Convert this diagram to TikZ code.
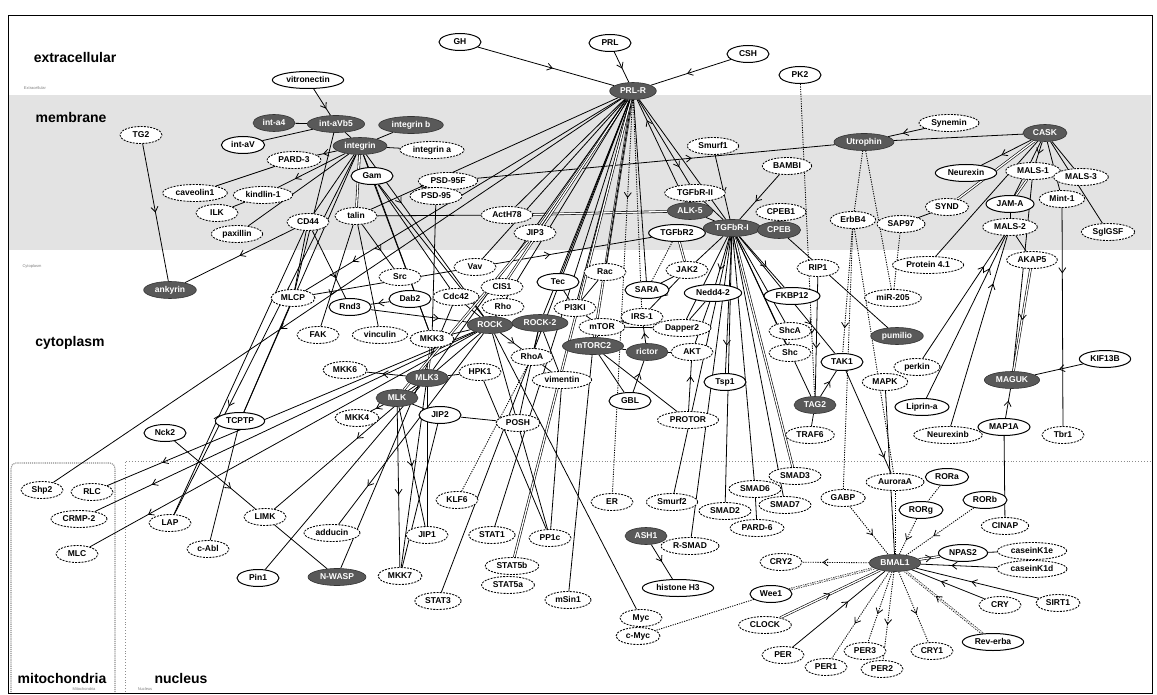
\documentclass[tikz,border=0pt]{standalone}
\usepackage{fontspec}
\setmainfont{Liberation Sans}
\usetikzlibrary{arrows.meta,decorations.markings,shapes.geometric}
\pgfdeclarelayer{back}
\pgfdeclarelayer{edges}
\pgfsetlayers{back,edges,main}
\tikzset{
  nd/.style={ellipse, inner xsep=3.5pt, inner ysep=1pt, minimum height=17pt, minimum width=42pt, font=\fontsize{8.5}{9}\selectfont\bfseries, text height=6.2pt, text depth=1.6pt},
  so/.style={nd, draw, line width=1pt, fill=white},
  da/.style={nd, draw, line width=0.85pt, dash pattern=on 2pt off 1.2pt, fill=white},
  dk/.style={nd, draw=black!80, line width=0.6pt, fill=black!65, text=white},
  ln/.style={draw, line width=0.8pt},
  dl/.style={draw, line width=0.85pt, dash pattern=on 1.2pt off 1.2pt},
  ma/.style={postaction={decorate}, decoration={markings, mark=at position #1 with {\arrow{Straight Barb[length=5pt,width=7pt,line width=0.8pt]}}}},
  ma/.default=0.55,
  dbl/.style={double, double distance=1.3pt, line width=0.6pt},
  reg/.style={font=\fontsize{14}{16}\selectfont\bfseries, inner sep=0pt},
  tinylab/.style={font=\fontsize{4}{5}\selectfont, text=black!50, inner sep=0pt},
}
\begin{document}
\begin{tikzpicture}[x=1pt,y=-1pt]
\useasboundingbox (0,0) rectangle (1157,695);
\begin{pgfonlayer}{back}
\fill[white] (0,0) rectangle (1157,695);
\fill[black!11] (9,95) rectangle (1151,250);
\draw[black!45, dotted, line width=0.9pt] (125,692) -- (125,461) -- (1151,461);
\draw[black!45, densely dotted, line width=1.1pt, rounded corners=5pt] (11,692) -- (11,463) -- (115,463) -- (115,692);
\draw[line width=0.9pt] (8,15) rectangle (1152,693);
\end{pgfonlayer}

% region labels
\node[reg] (Lext) at (75,57) {extracellular};
\node[reg] (Lmem) at (71,117) {membrane};
\node[reg] (Lcyt) at (70,343) {cytoplasm};
\node[reg] (Lmit) at (62,678) {mitochondria};
\node[reg] (Lnuc) at (181,678) {nucleus};
\node[tinylab] (Text) at (35,88) {Extracellular};
\node[tinylab] (Tcyt) at (32,266) {Cytoplasm};
\node[tinylab] (Tmit) at (84,689) {Mitochondria};
\node[tinylab] (Tnuc) at (145,689) {Nucleus};

% nodes
\node[so] (GH) at (460,42) {GH};
\node[so] (PRL) at (610,43) {PRL};
\node[so] (CSH) at (748,54) {CSH};
\node[so] (PK2) at (800,75) {PK2};
\node[so] (vitro) at (308,80) {vitronectin};
\node[dk] (PRLR) at (633,91) {PRL-R};
\node[da] (TG2) at (141,135) {TG2};
\node[dk] (inta4) at (274,123) {int-a4};
\node[dk] (intaVb5) at (336,124) {int-aVb5};
\node[dk] (intb) at (411,125) {integrin b};
\node[so] (intaV) at (243,145) {int-aV};
\node[dk] (integrin) at (360,146) {integrin};
\node[da] (inta) at (432,150) {integrin a};
\node[da] (PARD3) at (294,160) {PARD-3};
\node[so] (Gam) at (372,176) {Gam};
\node[da] (cav) at (195,193) {caveolin1};
\node[da] (kind) at (263,195) {kindlin-1};
\node[da] (ILK) at (217,213) {ILK};
\node[da] (pax) at (237,234) {paxillin};
\node[da] (PSD95F) at (448,181) {PSD-95F};
\node[da] (PSD95) at (436,196) {PSD-95};
\node[da] (CD44) at (308,222) {CD44};
\node[da] (talin) at (356,216) {talin};
\node[da] (Act) at (507,215) {ActH78};
\node[da] (JIP3) at (535,233) {JIP3};
\node[da] (Smurf1) at (713,146) {Smurf1};
\node[da] (BAMBI) at (787,166) {BAMBI};
\node[da] (TGFbRII) at (695,193) {TGFbR-II};
\node[dk] (ALK5) at (690,211) {ALK-5};
\node[da] (CPEB1) at (781,212) {CPEB1};
\node[so] (TGFbR2) at (677,233) {TGFbR2};
\node[dk] (TGFbRI) at (732,228) {TGFbR-I};
\node[dk] (CPEB) at (779,230) {CPEB};
\node[dk] (Utro) at (864,142) {Utrophin};
\node[da] (Synemin) at (949,123) {Synemin};
\node[dk] (CASK) at (1045,133) {CASK};
\node[so] (Neurexin) at (966,173) {Neurexin};
\node[da] (MALS1) at (1033,171) {MALS-1};
\node[da] (MALS3) at (1081,177) {MALS-3};
\node[da] (Mint1) at (1062,199) {Mint-1};
\node[so] (JAMA) at (1010,204) {JAM-A};
\node[da] (SYND) at (947,207) {SYND};
\node[da] (SAP97) at (901,224) {SAP97};
\node[da] (ErbB4) at (853,220) {ErbB4};
\node[da] (MALS2) at (1010,227) {MALS-2};
\node[da] (SglGSF) at (1108,232) {SglGSF};
\node[da] (AKAP5) at (1032,260) {AKAP5};
\node[da] (P41) at (928,265) {Protein 4.1};
\node[da] (miR) at (893,298) {miR-205};
\node[dk] (pum) at (897,336) {pumilio};
\node[da] (perkin) at (917,367) {perkin};
\node[da] (MAPK) at (885,382) {MAPK};
\node[dk] (MAGUK) at (1012,380) {MAGUK};
\node[so] (KIF) at (1105,359) {KIF13B};
\node[so] (Liprin) at (922,407) {Liprin-a};
\node[da] (Neurexinb) at (948,435) {Neurexinb};
\node[so] (MAP1A) at (1004,427) {MAP1A};
\node[da] (Tbr1) at (1063,435) {Tbr1};
\node[so] (TAK1) at (842,362) {TAK1};
\node[da] (Rac) at (605,272) {Rac};
\node[da] (JAK2) at (687,270) {JAK2};
\node[so] (SARA) at (647,290) {SARA};
\node[so] (Nedd) at (713,293) {Nedd4-2};
\node[da] (RIP1) at (818,268) {RIP1};
\node[so] (FKBP) at (792,296) {FKBP12};
\node[da] (IRS1) at (642,317) {IRS-1};
\node[da] (PI3KI) at (575,308) {PI3KI};
\node[da] (mTOR) at (602,327) {mTOR};
\node[da] (Dapper) at (682,328) {Dapper2};
\node[dk] (mTORC2) at (593,346) {mTORC2};
\node[dk] (rictor) at (647,352) {rictor};
\node[da] (AKT) at (692,352) {AKT};
\node[da] (ShcA) at (790,331) {ShcA};
\node[da] (Shc) at (790,353) {Shc};
\node[so] (Tsp1) at (725,382) {Tsp1};
\node[da] (vim) at (562,380) {vimentin};
\node[so] (GBL) at (630,401) {GBL};
\node[da] (PROTOR) at (688,420) {PROTOR};
\node[dk] (TAG2) at (815,405) {TAG2};
\node[da] (TRAF6) at (810,435) {TRAF6};
\node[da] (Vav) at (475,267) {Vav};
\node[da] (Src) at (400,277) {Src};
\node[so] (Tec) at (558,282) {Tec};
\node[da] (CIS1) at (502,287) {CIS1};
\node[da] (MLCP) at (293,298) {MLCP};
\node[so] (Rnd3) at (350,307) {Rnd3};
\node[so] (Dab2) at (410,299) {Dab2};
\node[da] (Cdc42) at (456,297) {Cdc42};
\node[da] (Rho) at (503,307) {Rho};
\node[dk] (ROCK) at (490,325) {ROCK};
\node[dk] (ROCK2) at (540,323) {ROCK-2};
\node[da] (FAK) at (318,335) {FAK};
\node[da] (vinc) at (380,335) {vinculin};
\node[da] (MKK3) at (432,339) {MKK3};
\node[da] (RhoA) at (532,357) {RhoA};
\node[da] (MKK6) at (345,370) {MKK6};
\node[dk] (MLK3) at (427,378) {MLK3};
\node[da] (HPK1) at (480,372) {HPK1};
\node[dk] (MLK) at (397,398) {MLK};
\node[da] (MKK4) at (357,418) {MKK4};
\node[so] (JIP2) at (440,415) {JIP2};
\node[da] (POSH) at (518,423) {POSH};
\node[dk] (ank) at (170,290) {ankyrin};
\node[so] (TCPTP) at (240,421) {TCPTP};
\node[so] (Nck2) at (165,433) {Nck2};
\node[da] (Shp2) at (42,490) {Shp2};
\node[da] (RLC) at (92,492) {RLC};
\node[da] (CRMP) at (79,519) {CRMP-2};
\node[da] (MLC) at (77,554) {MLC};
\node[da] (LAP) at (170,523) {LAP};
\node[da] (cAbl) at (208,549) {c-Abl};
\node[da] (LIMK) at (265,517) {LIMK};
\node[so] (Pin1) at (258,578) {Pin1};
\node[da] (KLF6) at (457,500) {KLF6};
\node[da] (add) at (332,533) {adducin};
\node[da] (JIP1) at (427,535) {JIP1};
\node[da] (STAT1) at (492,535) {STAT1};
\node[da] (PP1c) at (550,538) {PP1c};
\node[dk] (NWASP) at (337,577) {N-WASP};
\node[da] (MKK7) at (400,576) {MKK7};
\node[da] (STAT5b) at (512,566) {STAT5b};
\node[da] (STAT5a) at (508,585) {STAT5a};
\node[da] (STAT3) at (438,601) {STAT3};
\node[da] (mSin1) at (568,600) {mSin1};
\node[da] (ER) at (612,502) {ER};
\node[da] (Smurf2) at (672,502) {Smurf2};
\node[da] (SMAD3) at (795,476) {SMAD3};
\node[da] (SMAD6) at (755,489) {SMAD6};
\node[da] (SMAD7) at (785,505) {SMAD7};
\node[da] (SMAD2) at (725,511) {SMAD2};
\node[da] (PARD6) at (757,528) {PARD-6};
\node[da] (GABP) at (843,498) {GABP};
\node[dk] (ASH1) at (646,536) {ASH1};
\node[da] (RSMAD) at (690,546) {R-SMAD};
\node[so] (H3) at (678,588) {histone H3};
\node[da] (CRY2) at (781,562) {CRY2};
\node[so] (Wee1) at (771,594) {Wee1};
\node[da] (Myc) at (641,618) {Myc};
\node[da] (cMyc) at (638,636) {c-Myc};
\node[da] (CLOCK) at (765,625) {CLOCK};
\node[da] (PER) at (783,655) {PER};
\node[da] (PER1) at (826,667) {PER1};
\node[da] (AurA) at (895,482) {AuroraA};
\node[so] (RORa) at (947,477) {RORa};
\node[so] (RORg) at (921,510) {RORg};
\node[so] (RORb) at (985,500) {RORb};
\node[da] (CINAP) at (1005,526) {CINAP};
\node[dk] (BMAL1) at (895,563) {BMAL1};
\node[so] (NPAS2) at (963,553) {NPAS2};
\node[da] (CK1e) at (1032,551) {caseinK1e};
\node[da] (CK1d) at (1032,569) {caseinK1d};
\node[da] (CRY) at (1000,605) {CRY};
\node[da] (SIRT1) at (1058,603) {SIRT1};
\node[so] (Rev) at (993,642) {Rev-erba};
\node[da] (CRY1) at (932,651) {CRY1};
\node[da] (PER3) at (865,651) {PER3};
\node[da] (PER2) at (882,669) {PER2};

\begin{pgfonlayer}{edges}
% extracellular
\draw[ln,ma] (GH) -- (PRLR);
\draw[ln,ma] (PRL) -- (PRLR);
\draw[ln,ma] (CSH) -- (PRLR);
\draw[ln,ma=.75] (vitro) -- (intaVb5);
\draw[dl,ma=.8] (PK2) -- (TAG2);
% integrins
\draw[ln] (intaV) -- (intaVb5);
\draw[ln] (inta4) -- (intaVb5);
\draw[ln] (intaVb5) -- (integrin);
\draw[ln] (integrin) -- (intb);
\draw[ln] (integrin) -- (inta);
\draw[ln,ma=.7] (integrin) -- (PARD3);
\draw[ln,ma=.75] (integrin) -- (kind);
\draw[ln] (PARD3) -- (cav);
\draw[ln] (kind) -- (ILK);
\draw[ln] (pax) -- (integrin);
\draw[ln] (integrin) -- (Gam);
\draw[ln,dbl] (integrin) -- (talin);
\draw[ln] (integrin) -- (CD44);
\draw[ln,ma=.7] (integrin) -- (LAP);
\draw[ln,ma=.35] (LAP) -- (CD44);
\draw[ln] (integrin) -- (TCPTP);
\draw[ln] (intaVb5) -- (MLCP);
\draw[ln,ma=.7] (talin) -- (FAK);
\draw[ln,ma=.6] (talin) -- (Src);
\draw[ln] (talin) -- (vinc);
\draw[ln] (talin) -- (Act);
\draw[ln,dbl] (Act) -- (ALK5);
\draw[ln] (Gam) -- (Cdc42);
\draw[ln] (Gam) -- (MKK3);
\draw[ln] (Gam) -- (ROCK);
\draw[ln] (integrin) -- (MKK3);
\draw[ln,ma=.3] (integrin) -- (ROCK);
\draw[ln] (PSD95) -- (MKK3);
\draw[ln,ma=.6] (PSD95F) -- (Utro);
\draw[ln,ma=.5] (TG2) -- (ank);
\draw[ln,ma=.5] (CD44) -- (ank);
\draw[ln] (CD44) -- (MLCP);
\draw[ln] (MLCP) -- (TCPTP);
\draw[ln,ma=.7] (CD44) -- (Rnd3);
\draw[ln,ma=.6] (Dab2) -- (Rnd3);
\draw[ln,ma=.7] (Rnd3) -- (ROCK);
\draw[ln] (Cdc42) -- (ROCK);
\draw[ln] (Rho) -- (ROCK);
\draw[dl] (CIS1) -- (Rho);
\draw[ln] (MKK3) -- (ROCK);
\draw[ln,dbl] (MKK3) -- (MLK3);
\draw[ln,ma=.7] (MLCP) -- (TGFbR2);
% PRL-R fan
\draw[ln,ma=.8] (PRLR) -- (talin);
\draw[ln,ma=.85] (PRLR) -- (MLCP);
\draw[ln,ma=.6] (PRLR) -- (Shp2);
\draw[ln] (PRLR) -- (Vav);
\draw[ln,dbl] (PRLR) -- (JIP3);
\draw[ln] (PRLR) -- (Act);
\draw[ln,dbl] (PRLR) -- (CIS1);
\draw[ln] (PRLR) -- (ROCK);
\draw[ln] (PRLR) -- (ROCK2);
\draw[ln] (PRLR) -- (MLK3);
\draw[ln] (PRLR) -- (Tec);
\draw[ln] (PRLR) -- (PI3KI);
\draw[ln,dbl] (PRLR) -- (mTORC2);
\draw[ln] (PRLR) -- (Rac);
\draw[ln,dbl] (PRLR) -- (STAT5b);
\draw[ln] (PRLR) -- (STAT1);
\draw[ln] (PRLR) -- (STAT3);
\draw[dl,ma=.25] (PRLR) -- (ER);
\draw[dl] (PRLR) -- (IRS1);
\draw[ln,ma=.8] (PRLR) -- (TGFbRII);
\draw[ln,ma=.8] (ALK5) -- (PRLR);
\draw[ln] (PRLR) -- (SARA);
\draw[ln] (PRLR) -- (TGFbRI);
% TGF-beta
\draw[ln,ma=.6] (Smurf1) -- (TGFbRI);
\draw[ln,ma=.6] (BAMBI) -- (TGFbRI);
\draw[ln] (TGFbRII) -- (TGFbRI);
\draw[ln] (ALK5) -- (TGFbRI);
\draw[ln] (TGFbRI) -- (CPEB);
\draw[ln] (CPEB1) -- (CPEB);
\draw[ln,dbl] (TGFbR2) -- (JAK2);
\draw[dl] (TGFbR2) -- (SARA);
\draw[ln] (TGFbRI) -- (JAK2);
\draw[ln,ma=.7] (TGFbRI) -- (Nedd);
\draw[ln] (TGFbRI) -- (Dapper);
\draw[ln,ma=.6] (TGFbRI) -- (FKBP);
\draw[ln] (TGFbRI) -- (ShcA);
\draw[ln] (TGFbRI) -- (Shc);
\draw[ln,ma=.8] (TGFbRI) -- (Tsp1);
\draw[ln,ma=.75] (TGFbRI) -- (TAK1);
\draw[ln,ma=.7] (TGFbRI) -- (TAG2);
\draw[ln,dbl] (TGFbRI) -- (SMAD3);
\draw[ln] (TGFbRI) -- (SMAD6);
\draw[ln] (TGFbRI) -- (SMAD7);
\draw[ln] (TGFbRI) -- (SMAD2);
\draw[ln] (TGFbRI) -- (RSMAD);
\draw[ln] (TGFbRI) -- (Smurf2);
\draw[ln] (SMAD6) -- (PARD6);
\draw[ln] (JAK2) -- (SARA);
\draw[ln,ma=.6] (JAK2) -- (IRS1);
\draw[ln] (Nedd) -- (Dapper);
\draw[ln] (Nedd) -- (AKT);
\draw[ln] (CPEB) -- (pum);
\draw[ln,ma=.6] (RIP1) -- (TAG2);
\draw[ln,ma=.6] (TAG2) -- (TAK1);
\draw[ln] (TAG2) -- (TRAF6);
\draw[dl,ma=.8] (ErbB4) -- (TAK1);
\draw[dl] (ErbB4) -- (GABP);
\draw[dl] (ErbB4) -- (AurA);
\draw[dl] (Utro) -- (ErbB4);
\draw[dl] (Utro) -- (miR);
\draw[dl] (SAP97) -- (miR);
\draw[ln] (Utro) -- (CASK);
\draw[ln,ma=.6] (Synemin) -- (Utro);
% mTOR
\draw[ln] (Tec) -- (PI3KI);
\draw[ln] (Rac) -- (PI3KI);
\draw[ln] (PI3KI) -- (mTOR);
\draw[ln,ma=.6] (IRS1) -- (mTOR);
\draw[ln] (mTOR) -- (mTORC2);
\draw[ln] (mTORC2) -- (rictor);
\draw[ln,ma=.6] (rictor) -- (IRS1);
\draw[ln] (mTOR) -- (Dapper);
\draw[ln] (mTORC2) -- (GBL);
\draw[ln,ma=.6] (GBL) -- (rictor);
\draw[ln] (mTORC2) -- (PROTOR);
\draw[ln] (mTORC2) -- (mSin1);
\draw[ln] (rictor) -- (AKT);
\draw[ln,ma=.7] (PROTOR) -- (AKT);
\draw[ln] (ROCK2) -- (vim);
\draw[ln] (ROCK) -- (ROCK2);
\draw[ln,ma=.65] (ROCK) -- (RhoA);
\draw[ln] (ROCK2) -- (RhoA);
\draw[ln] (RhoA) -- (vim);
\draw[ln] (ROCK) -- (Myc);
\draw[ln] (ROCK) -- (PP1c);
\draw[ln] (vim) -- (PP1c);
\draw[dl] (KLF6) -- (RhoA);
% ROCK to left
\draw[ln,ma=.85] (ROCK) -- (RLC);
\draw[ln,ma=.85] (ROCK) -- (CRMP);
\draw[ln,ma=.85] (ROCK) -- (MLC);
\draw[ln,ma=.6] (ROCK) -- (LIMK);
\draw[ln,ma=.8] (ROCK) -- (add);
\draw[ln,ma=.7] (Nck2) -- (LIMK);
\draw[ln] (LIMK) -- (NWASP);
\draw[ln] (Cdc42) -- (NWASP);
\draw[ln] (Pin1) -- (MLK3);
\draw[ln] (TCPTP) -- (cAbl);
% MLK
\draw[ln] (MLK3) -- (MLK);
\draw[ln,ma=.6] (MLK3) -- (MKK6);
\draw[ln,ma=.6] (MLK) -- (MKK4);
\draw[ln] (MLK3) -- (HPK1);
\draw[ln] (MLK) -- (JIP2);
\draw[ln] (JIP2) -- (POSH);
\draw[ln] (POSH) -- (ROCK2);
\draw[ln,dbl] (JIP3) -- (MLK);
\draw[ln,ma=.55] (MLK) -- (MKK7);
\draw[ln] (MLK3) -- (MKK7);
\draw[ln,ma=.5] (MLK) -- (JIP1);
\draw[ln] (MLK3) -- (JIP1);
\draw[ln] (JIP2) -- (MKK7);
\draw[ln] (HPK1) -- (PP1c);
% CASK
\draw[ln,ma=.6] (CASK) -- (Neurexin);
\draw[ln,dbl] (CASK) -- (SYND);
\draw[ln,ma=.6] (CASK) -- (MALS1);
\draw[ln] (CASK) -- (MALS3);
\draw[ln] (CASK) -- (Mint1);
\draw[ln] (CASK) -- (SglGSF);
\draw[ln,ma=.6] (CASK) -- (JAMA);
\draw[ln] (CASK) -- (P41);
\draw[ln,dbl] (MALS1) -- (JAMA);
\draw[ln] (MALS1) -- (MAGUK);
\draw[ln,ma=.3] (Mint1) -- (Tbr1);
\draw[ln] (JAMA) -- (MALS2);
\draw[ln,ma=.8] (Liprin) -- (MALS2);
\draw[ln,ma=.75] (perkin) -- (MALS2);
\draw[ln,ma=.75] (Neurexinb) -- (MALS2);
\draw[ln,dbl,ma=.5] (AKAP5) -- (MAGUK);
\draw[ln,ma=.6] (MAP1A) -- (MAGUK);
\draw[ln,ma=.5] (KIF) -- (MAGUK);
\draw[ln] (SYND) -- (SAP97);
\draw[ln] (MALS2) -- (AKAP5);
\draw[ln] (MAP1A) -- (CINAP);
% BMAL1
\draw[ln] (MAPK) -- (BMAL1);
\draw[ln,ma=.85] (TAK1) -- (AurA);
\draw[dl] (AurA) -- (BMAL1);
\draw[dl,ma=.6] (GABP) -- (BMAL1);
\draw[dl] (RORa) -- (RORg);
\draw[dl,ma=.6] (RORg) -- (BMAL1);
\draw[dl,ma=.6] (RORb) -- (BMAL1);
\draw[ln,dbl,ma=.6] (BMAL1) -- (NPAS2);
\draw[ln] (NPAS2) -- (CK1e);
\draw[ln,ma=.6] (CK1d) -- (BMAL1);
\draw[ln,ma=.6] (CRY) -- (BMAL1);
\draw[ln,ma=.55] (SIRT1) -- (BMAL1);
\draw[dl,dbl,ma=.6] (Rev) -- (BMAL1);
\draw[dl,ma=.6] (BMAL1) -- (CRY1);
\draw[dl,ma=.6] (BMAL1) -- (PER2);
\draw[dl,ma=.6] (BMAL1) -- (PER3);
\draw[dl,ma=.6] (BMAL1) -- (PER1);
\draw[ln,ma=.6] (PER) -- (BMAL1);
\draw[ln,dbl,ma=.5] (CLOCK) -- (BMAL1);
\draw[dl,ma=.7] (BMAL1) -- (CRY2);
\draw[dl,dbl] (BMAL1) -- (Wee1);
\draw[dl] (Wee1) -- (cMyc);
\draw[ln,ma=.5] (ASH1) -- (H3);
\end{pgfonlayer}
\end{tikzpicture}
\end{document}
